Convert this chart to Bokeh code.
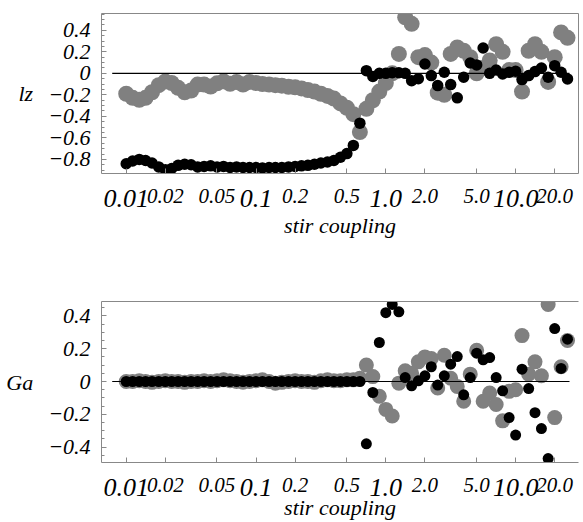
import numpy as np
from bokeh.plotting import figure
from bokeh.models import Range1d, FixedTicker, LogAxis, LinearAxis, ColumnDataSource
from bokeh.layouts import column
from bokeh.embed import file_html
from bokeh.resources import INLINE

# ---------------- data ----------------
stir = [0.0100, 0.0112, 0.0126, 0.0141, 0.0158, 0.0178, 0.0200, 0.0224, 0.0251, 0.0282,
        0.0316, 0.0355, 0.0398, 0.0447, 0.0501, 0.0562, 0.0631, 0.0708, 0.0794, 0.0891,
        0.100, 0.112, 0.126, 0.141, 0.158, 0.178, 0.200, 0.224, 0.251, 0.282,
        0.316, 0.355, 0.398, 0.447, 0.501, 0.562, 0.631, 0.708, 0.794, 0.891,
        1.00, 1.12, 1.26, 1.41, 1.58, 1.78, 2.00, 2.24, 2.51, 2.82,
        3.16, 3.55, 3.98, 4.47, 5.01, 5.62, 6.31, 7.08, 7.94, 8.91,
        10.0, 11.2, 12.6, 14.1, 15.8, 17.8, 20.0, 22.4, 25.1]

lz_gray = [-0.19, -0.228, -0.246, -0.228, -0.176, -0.11, -0.075, -0.09, -0.135, -0.176,
           -0.16, -0.105, -0.105, -0.123, -0.093, -0.074, -0.098, -0.08, -0.105, -0.08,
           -0.09, -0.1, -0.105, -0.11, -0.115, -0.125, -0.13, -0.14, -0.155, -0.17,
           -0.19, -0.21, -0.235, -0.28, -0.32, -0.38, -0.546, -0.33, -0.25, -0.17,
           -0.09, 0.0, 0.18, 0.52, 0.46, 0.15, 0.17, 0.10, -0.18, -0.20,
           0.18, 0.24, 0.21, 0.15, 0.0, 0.05, 0.12, 0.27, 0.2, 0.03,
           0.03, -0.17, 0.21, 0.27, 0.2, -0.08, 0.15, 0.38, 0.33]

lz_black = [-0.84, -0.815, -0.80, -0.81, -0.833, -0.87, -0.895, -0.885, -0.855, -0.845,
            -0.85, -0.87, -0.865, -0.86, -0.87, -0.865, -0.875, -0.87, -0.875, -0.875,
            -0.875, -0.88, -0.875, -0.875, -0.875, -0.87, -0.866, -0.86, -0.855, -0.845,
            -0.833, -0.824, -0.81, -0.78, -0.746, -0.67, -0.463, 0.025, -0.03, 0.0,
            0.0, 0.005, 0.005, 0.0, -0.068, -0.05, 0.087, -0.021, -0.114, 0.01,
            -0.105, -0.228, -0.037, 0.096, 0.078, 0.235, 0.0, 0.031, -0.006, 0.01,
            0.019, -0.058, -0.021, 0.016, 0.05, -0.037, 0.071, 0.01, -0.052]

ga_gray = [0.0, 0.0, 0.005, 0.0, -0.005, 0.0, 0.005, 0.0, 0.0, -0.005,
           0.0, 0.0, 0.005, 0.0, 0.005, 0.01, 0.005, 0.0, -0.005, 0.0,
           0.005, 0.01, 0.0, -0.01, -0.005, 0.0, 0.005, 0.0, 0.0, -0.005,
           0.005, 0.01, 0.005, 0.005, 0.01, 0.01, 0.02, 0.10, 0.03, -0.09,
           -0.17, -0.21, -0.01, 0.065, 0.05, 0.12, 0.15, 0.14, -0.04, 0.16,
           0.02, -0.03, -0.12, 0.045, 0.19, -0.12, -0.07, -0.14, -0.24, -0.06,
           -0.05, 0.28, 0.045, 0.12, 0.035, 0.47, -0.22, 0.09, 0.25]

ga_black = [0.0] * 37 + [
            -0.38, -0.067, 0.238,
            0.42, 0.47, 0.425, 0.024, -0.026, 0.004, 0.035, 0.09, -0.022, 0.035,
            0.106, 0.152, -0.081, 0.024, 0.173, 0.132, 0.146, 0.024, -0.057, -0.22,
            -0.327, 0.075, -0.043, -0.19, -0.287, -0.47, 0.323, 0.08, 0.258]

zero_x = [0.0078, 26.0]
zero_y = [0.0, 0.0]

x_ticks = [0.01, 0.02, 0.05, 0.1, 0.2, 0.5, 1.0, 2.0, 5.0, 10.0, 20.0]
x_tick_labels = ["0.01", "0.02", "0.05", "0.1", "0.2", "0.5", "1.0", "2.0", "5.0", "10.0", "20.0"]
x_big_ticks = [0.01, 0.1, 1.0, 10.0]

lz_ticks = [-0.8, -0.6, -0.4, -0.2, 0, 0.2, 0.4]
lz_tick_labels = ["\u22120.8", "\u22120.6", "\u22120.4", "\u22120.2", "0", "0.2", "0.4"]
ga_ticks = [-0.4, -0.2, 0, 0.2, 0.4]
ga_tick_labels = ["\u22120.4", "\u22120.2", "0", "0.2", "0.4"]

X_LO, X_HI = 0.00645, 30.5
FONT = "Liberation Serif"
FRAME = "#888888"
GRAY = "#808080"


def minor(lo, hi):
    vals = np.round(np.arange(-1.0, 1.0001, 0.05), 2)
    return [float(v) for v in vals if lo <= v <= hi and abs(round(v / 0.2) * 0.2 - v) > 1e-6]


def no_ticks(ax):
    ax.major_tick_in = 0
    ax.major_tick_out = 0
    ax.minor_tick_in = 0
    ax.minor_tick_out = 0


def make(gray, black, y_lo, y_hi, yt, ytl, ylabel, height, mb_left, mb_right, mb_top,
         mb_bottom, gsize, bsize, right_border, title_standoff):
    p = figure(width=583, height=height, x_axis_type="log",
               x_range=Range1d(X_LO, X_HI), y_range=Range1d(y_lo, y_hi),
               output_backend="svg", toolbar_location=None,
               min_border_left=mb_left, min_border_right=mb_right,
               min_border_top=mb_top, min_border_bottom=mb_bottom)
    p.grid.visible = False
    p.outline_line_color = None
    p.background_fill_color = "white"
    p.border_fill_color = "white"

    xa = p.below[0]
    ya = p.left[0]

    # frame border lines (top, and right for the upper panel)
    top_ax = LogAxis(ticker=FixedTicker(ticks=[], minor_ticks=[]), axis_line_color=FRAME)
    no_ticks(top_ax)
    p.add_layout(top_ax, "above")
    if right_border:
        r_ax = LinearAxis(ticker=FixedTicker(ticks=[], minor_ticks=[]), axis_line_color=FRAME)
        no_ticks(r_ax)
        p.add_layout(r_ax, "right")

    # y axis
    ya.ticker = FixedTicker(ticks=yt, minor_ticks=minor(y_lo, y_hi))
    ya.major_label_overrides = {t: l for t, l in zip(yt, ytl)}
    ya.axis_line_color = FRAME
    ya.major_tick_line_color = FRAME
    ya.minor_tick_line_color = FRAME
    ya.major_tick_in = 5
    ya.major_tick_out = 0
    ya.minor_tick_in = 3
    ya.minor_tick_out = 0
    ya.major_label_standoff = 11
    ya.major_label_text_font = FONT
    ya.major_label_text_font_style = "italic"
    ya.major_label_text_font_size = "22px"
    ya.major_label_text_color = "black"
    ya.axis_label = ylabel
    ya.axis_label_orientation = "horizontal"
    ya.axis_label_standoff = 12
    ya.axis_label_text_font = FONT
    ya.axis_label_text_font_style = "italic"
    ya.axis_label_text_font_size = "22px"
    ya.axis_label_text_color = "black"

    # x axis A (all ticks, medium labels)
    xa.ticker = FixedTicker(ticks=x_ticks, minor_ticks=[])
    xa.major_label_overrides = {t: ("" if t in x_big_ticks else l)
                                for t, l in zip(x_ticks, x_tick_labels)}
    xa.axis_line_color = FRAME
    xa.major_tick_line_color = FRAME
    xa.major_tick_in = 5
    xa.major_tick_out = 0
    xa.minor_tick_in = 0
    xa.minor_tick_out = 0
    xa.major_label_standoff = 15
    xa.major_label_text_font = FONT
    xa.major_label_text_font_style = "italic"
    xa.major_label_text_font_size = "21px"
    xa.major_label_text_color = "black"

    # x axis B (decade labels, large)
    xb = LogAxis(ticker=FixedTicker(ticks=x_big_ticks, minor_ticks=[]))
    xb.major_label_overrides = {t: l for t, l in zip(x_ticks, x_tick_labels) if t in x_big_ticks}
    xb.axis_line_color = None
    no_ticks(xb)
    xb.major_label_standoff = -16
    xb.major_label_text_font = FONT
    xb.major_label_text_font_style = "italic"
    xb.major_label_text_font_size = "26px"
    xb.major_label_text_color = "black"
    xb.axis_label = "stir coupling"
    xb.axis_label_standoff = title_standoff
    xb.axis_label_text_font = FONT
    xb.axis_label_text_font_style = "italic"
    xb.axis_label_text_font_size = "22px"
    xb.axis_label_text_color = "black"
    p.add_layout(xb, "below")

    src = ColumnDataSource(dict(x=stir, g=gray, b=black))
    p.scatter("x", "g", source=src, size=gsize, fill_color=GRAY, line_color=None)
    p.scatter("x", "b", source=src, size=bsize, fill_color="black", line_color=None)
    p.line(zero_x, zero_y, line_color="black", line_width=1.2)
    return p


p1 = make(lz_gray, lz_black, -0.931, 0.556, lz_ticks, lz_tick_labels, "lz",
          height=250, mb_left=96, mb_right=5, mb_top=13, mb_bottom=77,
          gsize=16, bsize=11.5, right_border=True, title_standoff=3)
p2 = make(ga_gray, ga_black, -0.494, 0.488, ga_ticks, ga_tick_labels, "Ga",
          height=272, mb_left=101, mb_right=0, mb_top=51, mb_bottom=60,
          gsize=15, bsize=11, right_border=False, title_standoff=-4)

layout = column(p1, p2)
open("out.html", "w").write(file_html(layout, INLINE))
